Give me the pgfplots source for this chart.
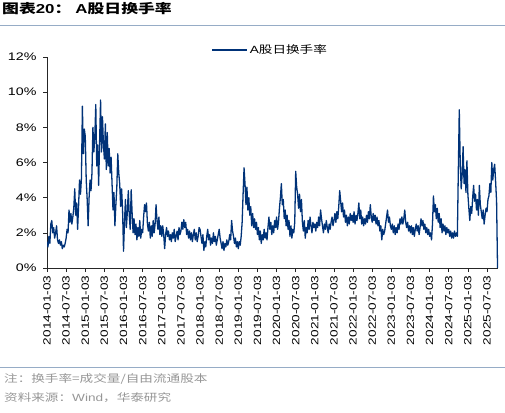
\documentclass[border=0pt]{standalone}
\usepackage{pgfplots}
\pgfplotsset{compat=1.18}
\usepackage{fontspec}
\setmainfont{Liberation Sans}[FakeStretch=1.3]
\newfontfamily\cjk{Noto Sans CJK SC}[FakeStretch=1.3]
\definecolor{navy}{RGB}{0,50,120}
\definecolor{sep}{RGB}{150,172,198}
\definecolor{foot}{RGB}{150,150,150}
\begin{document}
\begin{tikzpicture}[x=1bp,y=1bp]
\useasboundingbox (0,0) rectangle (505,412);
\begin{axis}[
 at={(47bp,144bp)}, anchor=south west,
 scale only axis, width=451bp, height=211bp,
 xmin=0, xmax=471.5, ymin=0, ymax=12,
 axis x line*=bottom, axis y line*=left,
 tick align=outside, major tick length=4bp,
 xtick={0,20,...,460},
 xticklabels={2014-01-03,2014-07-03,2015-01-03,2015-07-03,2016-01-03,2016-07-03,2017-01-03,2017-07-03,2018-01-03,2018-07-03,2019-01-03,2019-07-03,2020-01-03,2020-07-03,2021-01-03,2021-07-03,2022-01-03,2022-07-03,2023-01-03,2023-07-03,2024-01-03,2024-07-03,2025-01-03,2025-07-03},
 xticklabel style={rotate=90, anchor=east, font=\fontsize{10.5}{10.5}\selectfont},
 ytick={0,2,...,12},
 yticklabel={\pgfmathprintnumber{\tick}\%},
 yticklabel style={font=\fontsize{11}{11}\selectfont, xshift=-3bp},
 /pgf/number format/assume math mode=true,
 axis line style={black!85, line width=0.6pt},
 tick style={black!85, line width=0.6pt},
 legend style={at={(0.495,1.033)}, anchor=center, draw=none, fill=none, font=\fontsize{10.5}{10.5}\selectfont},
 legend image code/.code={\draw[#1, line width=1.3pt] (0bp,0bp) -- (35bp,0bp);},
]
\addplot[navy, line width=1.3pt, line join=round] coordinates {
(0,1.5)(1,1.2)(2,1.8)(3,1.4)(4,2.5)(5,2.7)(6,2.0)(7,2.3)(8,1.7)(9,2.0)(10,2.4)(11,1.6)(12,1.4)(13,1.6)(14,1.3)(15,1.5)(16,1.1)(17,1.3)(18,1.2)(19,1.4)
(20,1.7)(21,2.2)(22,2.0)(23,3.3)(24,2.6)(25,3.1)(26,2.5)(27,2.9)(28,3.4)(29,4.5)(30,3.0)(31,3.7)(32,2.2)(33,3.5)(34,5.0)(35,4.2)(36,5.1)(37,9.2)(38,6.5)(39,7.9)
(40,7.5)(41,5.0)(42,3.9)(43,2.4)(44,4.0)(45,5.0)(46,4.4)(47,5.4)(48,8.0)(49,6.6)(50,7.5)(51,9.3)(52,5.8)(53,7.0)(54,4.7)(55,7.2)(56,9.55)(57,6.6)(58,8.6)(59,7.0)
(60,6.2)(61,8.2)(62,5.6)(63,7.7)(64,5.8)(65,6.8)(66,5.4)(67,6.3)(68,4.8)(69,3.3)(70,4.3)(71,2.4)(72,3.6)(73,4.6)(74,6.5)(75,5.4)(76,4.8)(77,3.5)(78,4.5)(79,3.3)
(80,0.95)(81,2.6)(82,3.9)(83,2.3)(84,3.2)(85,4.4)(86,3.0)(87,2.2)(88,4.45)(89,3.1)(90,2.0)(91,2.8)(92,1.9)(93,2.5)(94,1.6)(95,2.3)(96,1.8)(97,2.7)(98,1.7)(99,2.2)
(100,2.0)(101,2.9)(102,3.6)(103,3.2)(104,3.7)(105,2.5)(106,2.1)(107,2.6)(108,1.7)(109,2.4)(110,1.8)(111,2.7)(112,2.0)(113,2.5)(114,3.6)(115,2.7)(116,2.2)(117,2.9)(118,1.9)(119,2.4)
(120,1.8)(121,2.4)(122,1.9)(123,1.1)(124,1.9)(125,2.3)(126,1.8)(127,2.1)(128,1.6)(129,1.9)(130,1.5)(131,2.0)(132,1.7)(133,2.2)(134,1.5)(135,1.8)(136,2.1)(137,1.6)(138,2.3)(139,1.9)
(140,2.1)(141,2.6)(142,2.2)(143,2.75)(144,2.3)(145,2.6)(146,1.9)(147,2.2)(148,1.7)(149,2.1)(150,1.6)(151,2.0)(152,1.5)(153,1.9)(154,2.2)(155,1.6)(156,2.0)(157,1.5)(158,1.8)(159,2.3)
(160,2.2)(161,1.8)(162,1.4)(163,1.9)(164,1.0)(165,1.5)(166,1.2)(167,1.8)(168,2.2)(169,1.6)(170,1.9)(171,1.3)(172,1.7)(173,1.4)(174,2.0)(175,1.5)(176,1.8)(177,1.3)(178,1.6)(179,1.9)
(180,2.2)(181,1.7)(182,1.4)(183,1.1)(184,1.5)(185,1.0)(186,1.4)(187,1.2)(188,1.6)(189,1.3)(190,1.5)(191,1.9)(192,1.6)(193,2.7)(194,2.1)(195,1.8)(196,1.4)(197,1.7)(198,1.2)(199,1.5)
(200,1.1)(201,1.5)(202,1.3)(203,1.8)(204,2.6)(205,4.2)(206,5.7)(207,4.8)(208,3.6)(209,4.6)(210,3.3)(211,4.0)(212,3.0)(213,3.5)(214,2.4)(215,3.1)(216,2.3)(217,2.8)(218,2.2)(219,2.6)
(220,1.9)(221,2.3)(222,1.6)(223,2.1)(224,1.4)(225,1.9)(226,1.6)(227,2.2)(228,1.7)(229,2.0)(230,1.6)(231,2.3)(232,2.9)(233,2.2)(234,2.6)(235,1.9)(236,2.4)(237,2.0)(238,2.7)(239,2.3)
(240,2.9)(241,2.2)(242,2.6)(243,3.4)(244,4.0)(245,4.8)(246,3.6)(247,3.9)(248,2.8)(249,3.3)(250,2.4)(251,3.0)(252,2.2)(253,2.7)(254,1.8)(255,2.4)(256,1.7)(257,2.2)(258,2.0)(259,2.6)
(260,5.5)(261,4.6)(262,4.2)(263,3.4)(264,4.2)(265,3.2)(266,3.9)(267,2.6)(268,2.1)(269,2.7)(270,1.7)(271,2.3)(272,2.0)(273,2.7)(274,2.2)(275,2.9)(276,2.4)(277,2.0)(278,2.6)(279,2.3)
(280,2.5)(281,2.1)(282,2.6)(283,2.3)(284,2.9)(285,2.4)(286,3.3)(287,2.8)(288,2.4)(289,2.0)(290,2.5)(291,2.2)(292,2.7)(293,2.3)(294,2.0)(295,2.5)(296,2.2)(297,2.6)(298,2.9)(299,2.4)
(300,2.7)(301,3.1)(302,2.6)(303,3.2)(304,2.8)(305,3.5)(306,4.4)(307,3.8)(308,3.2)(309,3.7)(310,2.9)(311,3.3)(312,2.6)(313,3.0)(314,2.4)(315,2.9)(316,2.5)(317,3.1)(318,2.7)(319,3.0)
(320,2.6)(321,3.2)(322,2.5)(323,3.0)(324,2.7)(325,3.1)(326,3.7)(327,2.8)(328,3.3)(329,2.5)(330,2.9)(331,2.4)(332,2.8)(333,2.5)(334,3.0)(335,2.6)(336,3.2)(337,2.8)(338,3.6)(339,2.9)
(340,2.6)(341,3.1)(342,2.7)(343,3.0)(344,2.5)(345,2.9)(346,2.4)(347,2.7)(348,2.1)(349,2.4)(350,1.6)(351,2.2)(352,1.9)(353,2.1)(354,2.5)(355,2.9)(356,3.3)(357,2.6)(358,2.9)(359,2.4)
(360,2.2)(361,2.5)(362,2.0)(363,2.4)(364,1.9)(365,2.3)(366,2.0)(367,2.5)(368,2.2)(369,2.8)(370,2.5)(371,2.9)(372,2.5)(373,2.8)(374,3.3)(375,2.6)(376,2.3)(377,2.6)(378,2.1)(379,2.4)
(380,2.0)(381,2.4)(382,1.9)(383,2.3)(384,1.8)(385,2.2)(386,2.5)(387,2.1)(388,2.4)(389,1.9)(390,2.3)(391,2.8)(392,2.4)(393,2.7)(394,2.2)(395,2.5)(396,2.0)(397,2.3)(398,1.9)(399,2.2)
(400,1.8)(401,2.0)(402,1.6)(403,2.5)(404,4.1)(405,3.2)(406,3.6)(407,2.8)(408,3.4)(409,2.6)(410,3.1)(411,2.3)(412,2.8)(413,2.0)(414,2.5)(415,2.1)(416,2.4)(417,1.9)(418,2.3)(419,2.0)
(420,2.2)(421,1.8)(422,2.1)(423,1.7)(424,2.0)(425,1.7)(426,2.1)(427,1.8)(428,2.0)(429,1.8)(430,5.5)(431,9.0)(432,6.0)(433,4.5)(434,5.3)(435,6.9)(436,4.8)(437,5.6)(438,4.3)(439,6.1)
(440,4.2)(441,3.4)(442,2.7)(443,3.5)(444,3.1)(445,4.0)(446,4.7)(447,3.8)(448,4.2)(449,3.3)(450,3.9)(451,3.0)(452,4.7)(453,3.6)(454,3.2)(455,2.8)(456,3.3)(457,2.5)(458,3.0)(459,3.4)
(460,3.2)(461,3.9)(462,4.1)(463,4.8)(464,4.3)(465,6.0)(466,5.0)(467,5.6)(468,5.9)(469,4.9)(470,3.8)(471,0)
};
\addlegendentry{A{\cjk 股日换手率}}
\end{axis}
\node[anchor=west, inner sep=0] at (2,403) {\fontsize{13}{13}\selectfont\bfseries{\cjk 图表}20{\cjk ：}\hspace{4bp}A{\cjk 股日换手率}};
\draw[sep, line width=0.8pt] (0,387) -- (505,387);
\draw[sep, line width=0.8pt] (0,45) -- (505,45);
\node[anchor=west, inner sep=0, text=foot] at (4,33) {\fontsize{10.5}{10.5}\selectfont\cjk 注：换手率=成交量/自由流通股本};
\node[anchor=west, inner sep=0, text=foot] at (4,14) {\fontsize{10.5}{10.5}\selectfont{\cjk 资料来源：}Wind{\cjk ，华泰研究}};
\end{tikzpicture}
\end{document}
